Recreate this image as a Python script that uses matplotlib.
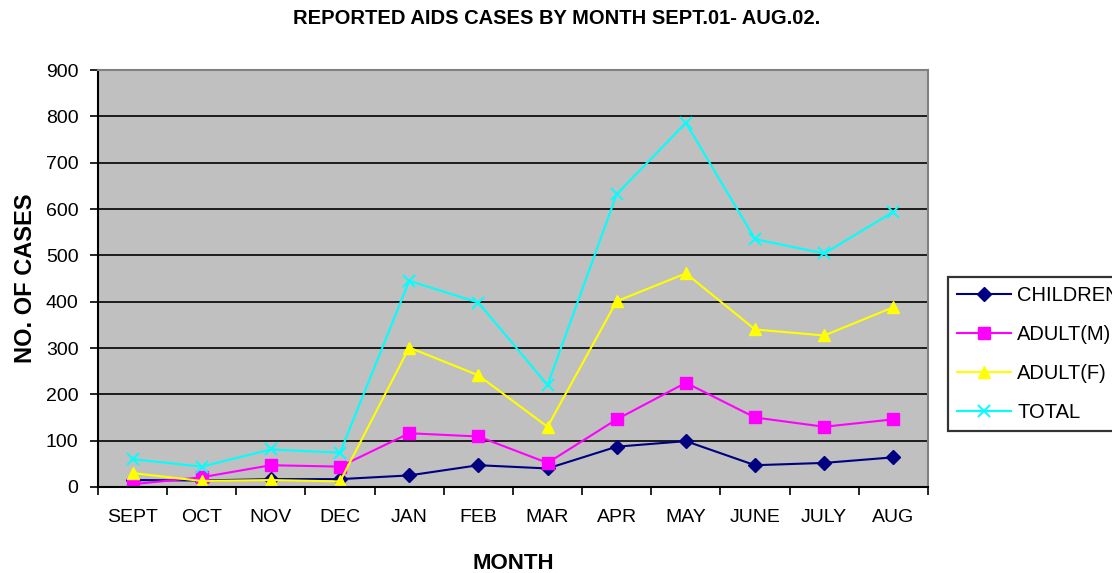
import matplotlib
matplotlib.use('Agg')
import matplotlib.pyplot as plt
import numpy as np

plt.rcParams['font.family'] = ['Liberation Sans', 'DejaVu Sans']

months = ['SEPT', 'OCT', 'NOV', 'DEC', 'JAN', 'FEB', 'MAR', 'APR', 'MAY', 'JUNE', 'JULY', 'AUG']
children = [15, 14, 17, 17, 25, 47, 40, 87, 99, 47, 52, 64]
adult_m = [6, 21, 47, 44, 116, 109, 52, 146, 225, 150, 130, 146]
adult_f = [30, 13, 15, 12, 301, 241, 130, 401, 461, 340, 327, 388]
total = [60, 44, 81, 74, 445, 398, 220, 632, 786, 535, 504, 594]

fig = plt.figure(figsize=(11.12, 5.73), dpi=100)
ax = fig.add_axes([0.0881, 0.1501, 0.7464, 0.7277])
ax.set_facecolor('#c0c0c0')

x = np.arange(len(months))
ax.plot(x, children, color='#000080', marker='D', markersize=7, lw=1.5, label='CHILDREN')
ax.plot(x, adult_m, color='#ff00ff', marker='s', markersize=8, lw=1.5, label='ADULT(M)')
ax.plot(x, adult_f, color='#ffff00', marker='^', markersize=9, lw=1.5, label='ADULT(F)')
ax.plot(x, total, color='#00ffff', marker='x', markersize=9, mew=1.4, lw=1.5, label='TOTAL')

ax.set_xlim(-0.5, 11.5)
ax.set_ylim(0, 900)
ax.set_yticks(range(0, 901, 100))
ax.yaxis.grid(True, color='black', lw=1.2)
ax.set_axisbelow(True)

ax.set_xticks(x)
ax.set_xticklabels(months)
ax.set_xticks(np.arange(-0.5, 12, 1), minor=True)
ax.tick_params(axis='x', which='major', length=0, pad=16, labelsize=14)
ax.tick_params(axis='x', which='minor', length=6, width=1.2, direction='out')
ax.tick_params(axis='y', length=6, width=1.2, labelsize=14, pad=8)

for s in ['left', 'bottom']:
    ax.spines[s].set_color('black')
    ax.spines[s].set_linewidth(1.5)
for s in ['top', 'right']:
    ax.spines[s].set_color('#808080')
    ax.spines[s].set_linewidth(1.5)

ax.set_xlabel('MONTH', fontsize=16, fontweight='bold', labelpad=19)
ax.set_ylabel('NO. OF CASES', fontsize=17, fontweight='bold', labelpad=6)
fig.text(0.501, 0.967, 'REPORTED AIDS CASES BY MONTH SEPT.01- AUG.02.',
         ha='center', va='center', fontsize=14.5, fontweight='bold')

leg = fig.legend(loc='upper left', bbox_to_anchor=(947.7 / 1112, 1 - 276.7 / 573),
                 frameon=True, fancybox=False, edgecolor='black', fontsize=14.5,
                 borderpad=0.45, labelspacing=1.0, handlelength=2.7, handletextpad=0.3,
                 borderaxespad=0)
leg.get_frame().set_linewidth(1.6)

fig.savefig('out.png', dpi=100)
